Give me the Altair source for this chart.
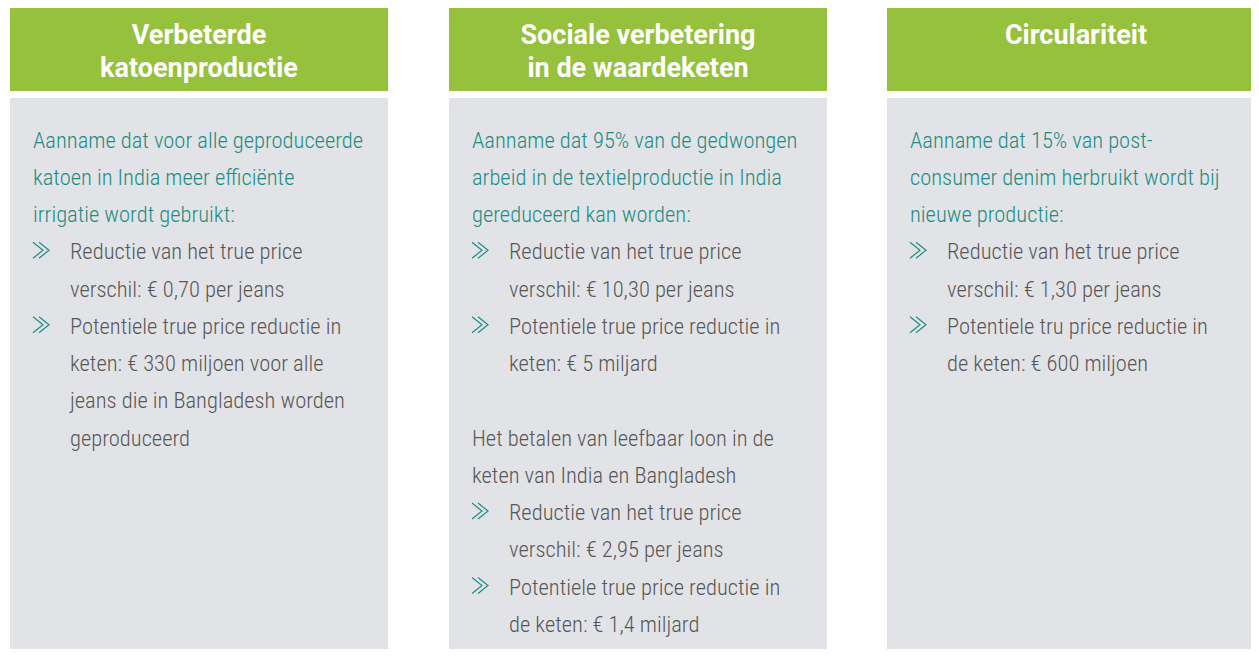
import altair as alt
import pandas as pd

# ---------------- content ----------------
headers = [
    ["Verbeterde", "katoenproductie"],
    ["Sociale verbetering", "in de waardeketen"],
    ["Circulariteit"],
]

# (style, text): intro = teal lead text, plain = grey lead text,
# bullet = first line of a bullet, cont = continuation, blank = empty line
panel1 = [
    ("intro", "Aanname dat voor alle geproduceerde"),
    ("intro", "katoen in India meer efficiënte"),
    ("intro", "irrigatie wordt gebruikt:"),
    ("bullet", "Reductie van het true price"),
    ("cont", "verschil: € 0,70 per jeans"),
    ("bullet", "Potentiele true price reductie in"),
    ("cont", "keten: € 330 miljoen voor alle"),
    ("cont", "jeans die in Bangladesh worden"),
    ("cont", "geproduceerd"),
]
panel2 = [
    ("intro", "Aanname dat 95% van de gedwongen"),
    ("intro", "arbeid in de textielproductie in India"),
    ("intro", "gereduceerd kan worden:"),
    ("bullet", "Reductie van het true price"),
    ("cont", "verschil: € 10,30 per jeans"),
    ("bullet", "Potentiele true price reductie in"),
    ("cont", "keten: € 5 miljard"),
    ("blank", ""),
    ("plain", "Het betalen van leefbaar loon in de"),
    ("plain", "keten van India en Bangladesh"),
    ("bullet", "Reductie van het true price"),
    ("cont", "verschil: € 2,95 per jeans"),
    ("bullet", "Potentiele true price reductie in"),
    ("cont", "de keten: € 1,4 miljard"),
]
panel3 = [
    ("intro", "Aanname dat 15% van post-"),
    ("intro", "consumer denim herbruikt wordt bij"),
    ("intro", "nieuwe productie:"),
    ("bullet", "Reductie van het true price"),
    ("cont", "verschil: € 1,30 per jeans"),
    ("bullet", "Potentiele tru price reductie in"),
    ("cont", "de keten: € 600 miljoen"),
]
bodies = [panel1, panel2, panel3]

# ---------------- layout ----------------
PANEL_LEFT = [10, 449, 887]
PANEL_W = 378
HEAD_TOP, HEAD_BOTTOM = 8, 91
BODY_TOP, BODY_BOTTOM = 98, 670
HEAD_BASE, HEAD_STEP = 44, 32.5
LINE_BASE, LINE_STEP = 147.5, 37.25
INDENT_LEAD, INDENT_BULLET = 23, 60
CHEV_HALF = 8

GREEN = "#95C13D"
GREY_BG = "#E2E3E7"
TEAL = "#1E8C84"
TEXT = "#575757"

BODY_FONT = "Roboto Condensed, Noto Sans Condensed, Open Sans Condensed, Liberation Sans Narrow, DejaVu Sans Condensed, sans-serif"
HEAD_FONT = "Roboto, Liberation Sans, sans-serif"
# double chevron glyph as a unit-square path
CHEVRON = "M-1,-1L0.25,0L-1,1M-0.25,-1L1,0L-0.25,1"

rects, head_rows, body_rows, chevrons = [], [], [], []
for p, left in enumerate(PANEL_LEFT):
    rects.append(dict(x=left, x2=left + PANEL_W, y=HEAD_TOP, y2=HEAD_BOTTOM, c=GREEN))
    rects.append(dict(x=left, x2=left + PANEL_W, y=BODY_TOP, y2=BODY_BOTTOM, c=GREY_BG))
    for j, h in enumerate(headers[p]):
        head_rows.append(dict(x=left + PANEL_W / 2, y=HEAD_BASE + j * HEAD_STEP, t=h))
    for i, (style, txt) in enumerate(bodies[p]):
        y = LINE_BASE + i * LINE_STEP
        if style == "blank":
            continue
        if style in ("intro", "plain"):
            body_rows.append(dict(x=left + INDENT_LEAD, y=y, t=txt,
                                  c=TEAL if style == "intro" else TEXT))
        else:
            body_rows.append(dict(x=left + INDENT_BULLET, y=y, t=txt, c=TEXT))
            if style == "bullet":
                chevrons.append(dict(x=left + INDENT_LEAD + CHEV_HALF, y=y - 9))

W, H = 1243, 641
xs = alt.Scale(domain=[8, 8 + W])
ys = alt.Scale(domain=[8, 8 + H], reverse=True)

rect_layer = alt.Chart(pd.DataFrame(rects)).mark_rect().encode(
    x=alt.X("x:Q", scale=xs, axis=None),
    x2="x2:Q",
    y=alt.Y("y:Q", scale=ys, axis=None),
    y2="y2:Q",
    color=alt.Color("c:N", scale=None),
)

head_layer = alt.Chart(pd.DataFrame(head_rows)).mark_text(
    font=HEAD_FONT, fontSize=27, fontWeight="bold", color="white",
    align="center", baseline="alphabetic",
).encode(
    x=alt.X("x:Q", scale=xs, axis=None),
    y=alt.Y("y:Q", scale=ys, axis=None),
    text="t:N",
)

body_layer = alt.Chart(pd.DataFrame(body_rows)).mark_text(
    font=BODY_FONT, fontSize=22.5, fontWeight=300, align="left", baseline="alphabetic",
).encode(
    x=alt.X("x:Q", scale=xs, axis=None),
    y=alt.Y("y:Q", scale=ys, axis=None),
    text="t:N",
    color=alt.Color("c:N", scale=None),
)

chev_layer = alt.Chart(pd.DataFrame(chevrons)).mark_point(
    shape=CHEVRON, size=(2 * CHEV_HALF) ** 2, filled=False, stroke=TEAL,
    strokeWidth=1.2, opacity=1,
).encode(
    x=alt.X("x:Q", scale=xs, axis=None),
    y=alt.Y("y:Q", scale=ys, axis=None),
)

chart = alt.layer(rect_layer, head_layer, body_layer, chev_layer).properties(
    width=W, height=H, padding=0, autosize=alt.AutoSizeParams(type="none"),
    background="white",
).configure_view(stroke=None)

chart.save("out.html", embed_options={"renderer": "svg", "actions": False})
